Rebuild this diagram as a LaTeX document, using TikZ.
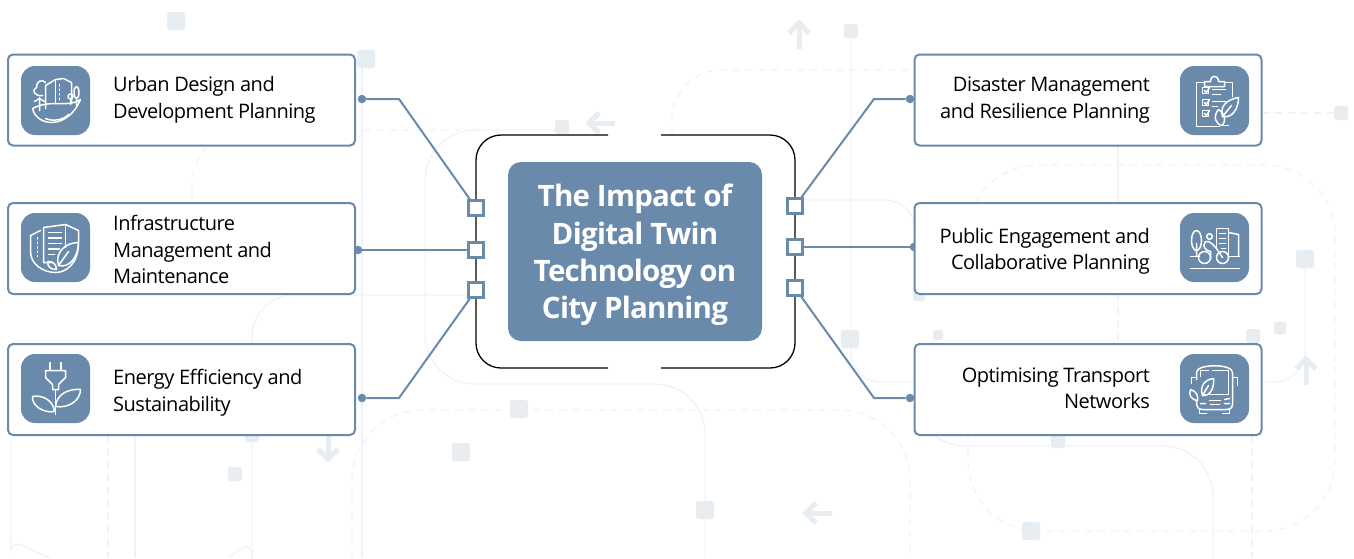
\documentclass[tikz,border=0pt]{standalone}
\usepackage{fontspec}
\setmainfont{Open Sans}[LetterSpace=-2.5]
\definecolor{steel}{HTML}{6A8AAB}
\definecolor{paleline}{HTML}{F0F3F6}
\definecolor{palesq}{HTML}{E8EDF2}
\tikzset{
	bgline/.style={draw=paleline, line width=1.2pt, rounded corners=42pt},
	bgdash/.style={bgline, dash pattern=on 7pt off 6pt},
	bgsq/.style={fill=palesq, rounded corners=2.5pt, inner sep=0pt},
	bgarrow/.style={draw=palesq, line width=5pt},
	cardbox/.style={draw=steel, line width=2pt, fill=white, rounded corners=5pt, minimum width=347pt, minimum height=91pt, inner sep=0pt},
	iconbox/.style={fill=steel, rounded corners=14pt, minimum width=69pt, minimum height=69pt, inner sep=0pt},
	lefttext/.style={anchor=west, align=left, inner sep=0pt, font=\fontsize{20}{26.5}\selectfont},
	righttext/.style={anchor=east, align=right, inner sep=0pt, font=\fontsize{20}{26.5}\selectfont},
	portbox/.style={draw=steel, line width=2.6pt, fill=white, minimum width=15pt, minimum height=15pt, inner sep=0pt},
	dotend/.style={circle, fill=steel, minimum size=8.5pt, inner sep=0pt},
	link/.style={draw=steel, line width=2pt},
	glyph/.style={draw=white, line width=1.5pt, line cap=round, line join=round},
}
\begin{document}
\begin{tikzpicture}[x=1pt, y=-1pt]
	\useasboundingbox (0,0) rectangle (1354,558);
	\fill[white] (0,0) rectangle (1354,558);

	\draw[bgline] (362,59) -- (362,558);
	\draw[bgline, rounded corners=30pt] (851,31) -- (851,382) -- (915,382);
	\draw[bgline, rounded corners=50pt] (705,558) -- (705,384) -- (425,384) -- (425,130) -- (560,130);
	\draw[bgline] (252,435) -- (252,295) -- (476,295);
	\draw[bgline] (252,435) -- (252,520) .. controls (252,535) and (240,550) .. (229,558);
	\draw[bgline] (11,440) -- (11,510) .. controls (11,535) and (30,550) .. (50,558);
	\draw[bgline] (135,435) -- (135,558);
	\draw[bgline, rounded corners=30pt] (762,200) -- (915,200) -- (915,295);
	\draw[bgline, rounded corners=50pt] (1213,558) -- (1213,446) -- (915,446) -- (915,435);
	\draw[bgline, rounded corners=30pt] (1305,259) -- (1305,382) -- (1262,382);
	\draw[bgline] (1118,146) -- (1118,203);
	\draw[bgdash, rounded corners=70pt] (352,558) -- (352,410) -- (910,410) -- (910,558);
	\draw[bgdash, rounded corners=50pt] (672,135) -- (672,70) -- (915,70);
	\draw[bgdash, rounded corners=70pt] (968,203) -- (968,165) -- (1335,165) -- (1335,531) -- (968,531) -- (968,435);
	\draw[bgdash, rounded corners=55pt] (192,294) -- (192,130) -- (476,130);
	\draw[bgdash] (1262,113) -- (1341,113);
	\draw[bgdash] (108,435) -- (108,558);
	\draw[bgdash] (1252,435) -- (1252,558);
	\draw[bgdash] (1118,294) -- (1118,344);

	\foreach \n/\x/\y/\s in {1/176/21/18, 2/366/59/18, 3/851/31/14, 4/562/127/14, 5/1341/113/14, 6/1305/259/18, 7/1253/336/14, 8/1280/328/12, 9/850/339/18, 10/919/295/12, 11/938/335/10, 12/519/409/18, 13/461/452/18, 14/235/474/14, 15/252/435/14, 16/705/510/18, 17/1031/531/18, 18/1058/441/14}{
		\node[bgsq, minimum size=\s pt] (sq\n) at (\x,\y) {};
	}

	\foreach \x/\y/\a in {799/35/0, 601/123/90, 328/447/180, 818/513/90, 1306/371/0}{
		\draw[bgarrow, shift={(\x,\y)}, rotate=\a] (0,14) -- (0,-12);
		\draw[bgarrow, shift={(\x,\y)}, rotate=\a] (-10,-2) -- (0,-12) -- (10,-2);
	}

	\fill[white, rounded corners=25pt] (476,135) rectangle (795,368);
	\draw[black, line width=1.3pt, rounded corners=25pt] (608,135) -- (476,135) -- (476,368) -- (608,368);
	\draw[black, line width=1.3pt, rounded corners=25pt] (661,135) -- (795,135) -- (795,368) -- (661,368);
	\node[fill=steel, rounded corners=13pt, minimum width=254pt, minimum height=179pt, inner sep=0pt] (title) at (635,251.5) {};
	\node[text=white, align=center, inner sep=0pt, font=\fontsize{29.5}{37.3}\selectfont\bfseries] (titletext) at (635,255) {The Impact of\\Digital Twin\\Technology on\\City Planning};

	\node[portbox] (portul) at (476,208) {};
	\node[portbox] (portml) at (476,250) {};
	\node[portbox] (portll) at (476,290) {};
	\node[portbox] (portur) at (795,206) {};
	\node[portbox] (portmr) at (795,247) {};
	\node[portbox] (portlr) at (795,288) {};

	\node[dotend] (dotul) at (362,99) {};
	\node[dotend] (dotml) at (358,250) {};
	\node[dotend] (dotll) at (362,398) {};
	\node[dotend] (dotur) at (910,99) {};
	\node[dotend] (dotmr) at (914,247) {};
	\node[dotend] (dotlr) at (910,398) {};

	\coordinate (bendul) at (399,99);
	\coordinate (bendll) at (399,398);
	\coordinate (bendur) at (874,99);
	\coordinate (bendlr) at (874,398);

	\draw[link] (dotul) -- (bendul) -- (portul);
	\draw[link] (dotml) -- (portml);
	\draw[link] (dotll) -- (bendll) -- (portll);
	\draw[link] (dotur) -- (bendur) -- (portur);
	\draw[link] (dotmr) -- (portmr);
	\draw[link] (dotlr) -- (bendlr) -- (portlr);

	\foreach \n/\x/\y in {urban/181.5/100, infra/181.5/248.5, energy/181.5/389.5, disaster/1088/100, public/1088/248.5, transport/1088/389.5}{
		\node[cardbox] (card\n) at (\x,\y) {};
	}
	\foreach \n/\x/\y in {urban/55.5/100.5, infra/55.5/247.5, energy/55.5/388.5, disaster/1214.5/100.5, public/1214.5/247.5, transport/1214.5/388.5}{
		\node[iconbox] (icon\n) at (\x,\y) {};
	}

	\node[lefttext] (texturban) at (113,100) {Urban Design and\\Development Planning};
	\node[lefttext] (textinfra) at (113,249.5) {Infrastructure\\Management and\\Maintenance};
	\node[lefttext] (textenergy) at (113,392.5) {Energy Efficiency and\\Sustainability};
	\node[righttext] (textdisaster) at (1150,100) {Disaster Management\\and Resilience Planning};
	\node[righttext] (textpublic) at (1150,251.5) {Public Engagement and\\Collaborative Planning};
	\node[righttext] (texttransport) at (1150,388) {Optimising Transport\\Networks};

	% icons
	\begin{scope}[shift={(iconurban.center)}, glyph]
		\draw (-10,8) -- (-10,-15) -- (0,-21) -- (8,-22) -- (16,-18) -- (16,2);
		\draw (0,-21) -- (0,3);
		\draw[dash pattern=on 1.5pt off 3pt] (4,-16) -- (4,1);
		\draw (-13,-5) .. controls (-22,-4) and (-24,-11) .. (-19,-13) .. controls (-20,-19) and (-13,-22) .. (-10,-18);
		\draw (-16,-3) -- (-16,10) (-16,-2) -- (-21,1) (-16,-2) -- (-11,1);
		\draw (15,-4) circle (2.5) (15,-1) -- (15,4);
		\draw (21,-8) ellipse (2.5 and 6) (21,-2) -- (21,5);
		\draw (-23,8) .. controls (-19,26) and (12,30) .. (25,-1) .. controls (12,8) and (-4,-2) .. (-23,8);
		\draw (-10,18) .. controls (-3,21) and (7,20) .. (13,14);
	\end{scope}
	\begin{scope}[shift={(iconinfra.center)}, glyph]
		\draw (-3,15) -- (-12,15) -- (-12,-20) -- (10,-23) -- (23,-17) -- (23,-5);
		\draw (10,-23) -- (10,0);
		\draw (-7,-15) -- (6,-15) (-7,-9.5) -- (6,-9.5) (-7,-4) -- (6,-4) (-7,1.5) -- (4,1.5) (-7,7) -- (-1,7);
		\draw (-15,-17) -- (-25,-12) -- (-25,4) .. controls (-25,17) and (-12,25) .. (0,25) .. controls (10,25) and (23,17) .. (23,-5);
		\draw[dash pattern=on 1.5pt off 3pt] (-18,-10) -- (-18,9);
		\draw (23,-5) .. controls (10,-5) and (-1,5) .. (3,18) .. controls (14,21) and (23,9) .. (23,-5);
		\draw (3,18) -- (13,4);
		\draw (-8,14) .. controls (-8,20) and (-4,22) .. (1,22) .. controls (1,17) and (-3,13) .. (-8,14);
	\end{scope}
	\begin{scope}[shift={(iconenergy.center)}, glyph]
		\draw (-5.5,-26) -- (-5.5,-18) (5.5,-26) -- (5.5,-18);
		\draw (-10,-18) -- (10,-18) -- (10,-11) -- (3,-4) -- (3,1) -- (-3,1) -- (-3,-4) -- (-10,-11) -- cycle;
		\draw (0,1) -- (0,26);
		\draw (0,18) .. controls (1,5) and (14,0) .. (25,1) .. controls (25,12) and (13,20) .. (0,18);
		\draw (-1,23) .. controls (-2,12) and (-13,6) .. (-23,8) .. controls (-24,17) and (-12,25) .. (-1,23);
	\end{scope}
	\begin{scope}[shift={(icondisaster.center)}, glyph]
		\draw (-10,-18) -- (-18,-18) -- (-18,26) -- (5,26);
		\draw (10,-18) -- (18,-18) -- (18,-4);
		\draw (-10,-14) -- (-10,-19) -- (-4,-19) .. controls (-4,-26) and (4,-26) .. (4,-19) -- (10,-19) -- (10,-14) -- cycle;
		\foreach \y in {-10,2,13}{
			\draw (-12,\y-3) rectangle (-6,\y+3);
			\draw (-10,\y) -- (-8,\y+2) -- (-5,\y-3);
		}
		\draw (-2,-11) -- (11,-11) (-2,-6) -- (6,-6) (-2,1) -- (11,1) (-2,6) -- (3,6);
		\draw (24,-3) .. controls (12,-1) and (5,6) .. (8,16) .. controls (18,18) and (24,8) .. (24,-3);
		\draw (8,16) -- (17,5);
		\draw (4,9) .. controls (-2,16) and (1,24) .. (8,25) .. controls (12,20) and (10,12) .. (4,9);
		\draw (8,25) -- (14,25);
	\end{scope}
	\begin{scope}[shift={(iconpublic.center)}, glyph]
		\draw (-24,21) -- (25,21);
		\draw (-24,9) -- (-15,9) (14,9) -- (25,9);
		\draw (-18,-7) ellipse (5 and 10) (-18,-4) -- (-18,9);
		\draw (2,0) -- (2,-19) -- (14,-19) -- (14,9);
		\draw (5,-14) -- (11,-14) (5,-9) -- (11,-9) (5,-4) -- (11,-4) (7,1) -- (11,1);
		\draw (14,-15) -- (24,-13) -- (24,9);
		\draw (-5,-11) circle (2.8);
		\draw (-10,10) circle (6) (8,10) circle (6);
		\draw (-9,-6) .. controls (-13,-1) and (-9,3) .. (-4,4) -- (-4,11) (-9,-6) .. controls (-4,-7) and (-1,-2) .. (2,1) -- (8,10);
	\end{scope}
	\begin{scope}[shift={(icontransport.center)}, glyph]
		\draw (-18,-9) -- (-18,-16) .. controls (-18,-25) and (18,-25) .. (18,-16) -- (18,16) .. controls (18,21) and (13,21) .. (11,21) -- (-11,21) .. controls (-16,21) and (-18,20) .. (-18,12);
		\draw (-6,-18) -- (-14,-18) -- (-14,-12) (-2,-18) -- (14,-18) -- (14,6) -- (-10,6);
		\draw (18,-11) -- (23,-11) -- (23,-3) (-18,-11) -- (-23,-11) -- (-23,-5);
		\draw (-5,12) -- (6,12) (-4,16) -- (5,16);
		\draw (10,11) -- (15,10) (10,15) -- (15,15) (-14,15) -- (-9,15);
		\draw (-15,21) -- (-15,25) -- (-8,25) (8,25) -- (15,25) -- (15,21);
		\draw (-1,-10) .. controls (-10,-9) and (-15,-2) .. (-12,7) .. controls (-5,8) and (0,0) .. (-1,-10);
		\draw (-12,7) -- (-6,-3);
		\draw (-24,1) .. controls (-26,6) and (-24,11) .. (-17,12) .. controls (-16,7) and (-18,3) .. (-24,1);
	\end{scope}
\end{tikzpicture}
\end{document}
